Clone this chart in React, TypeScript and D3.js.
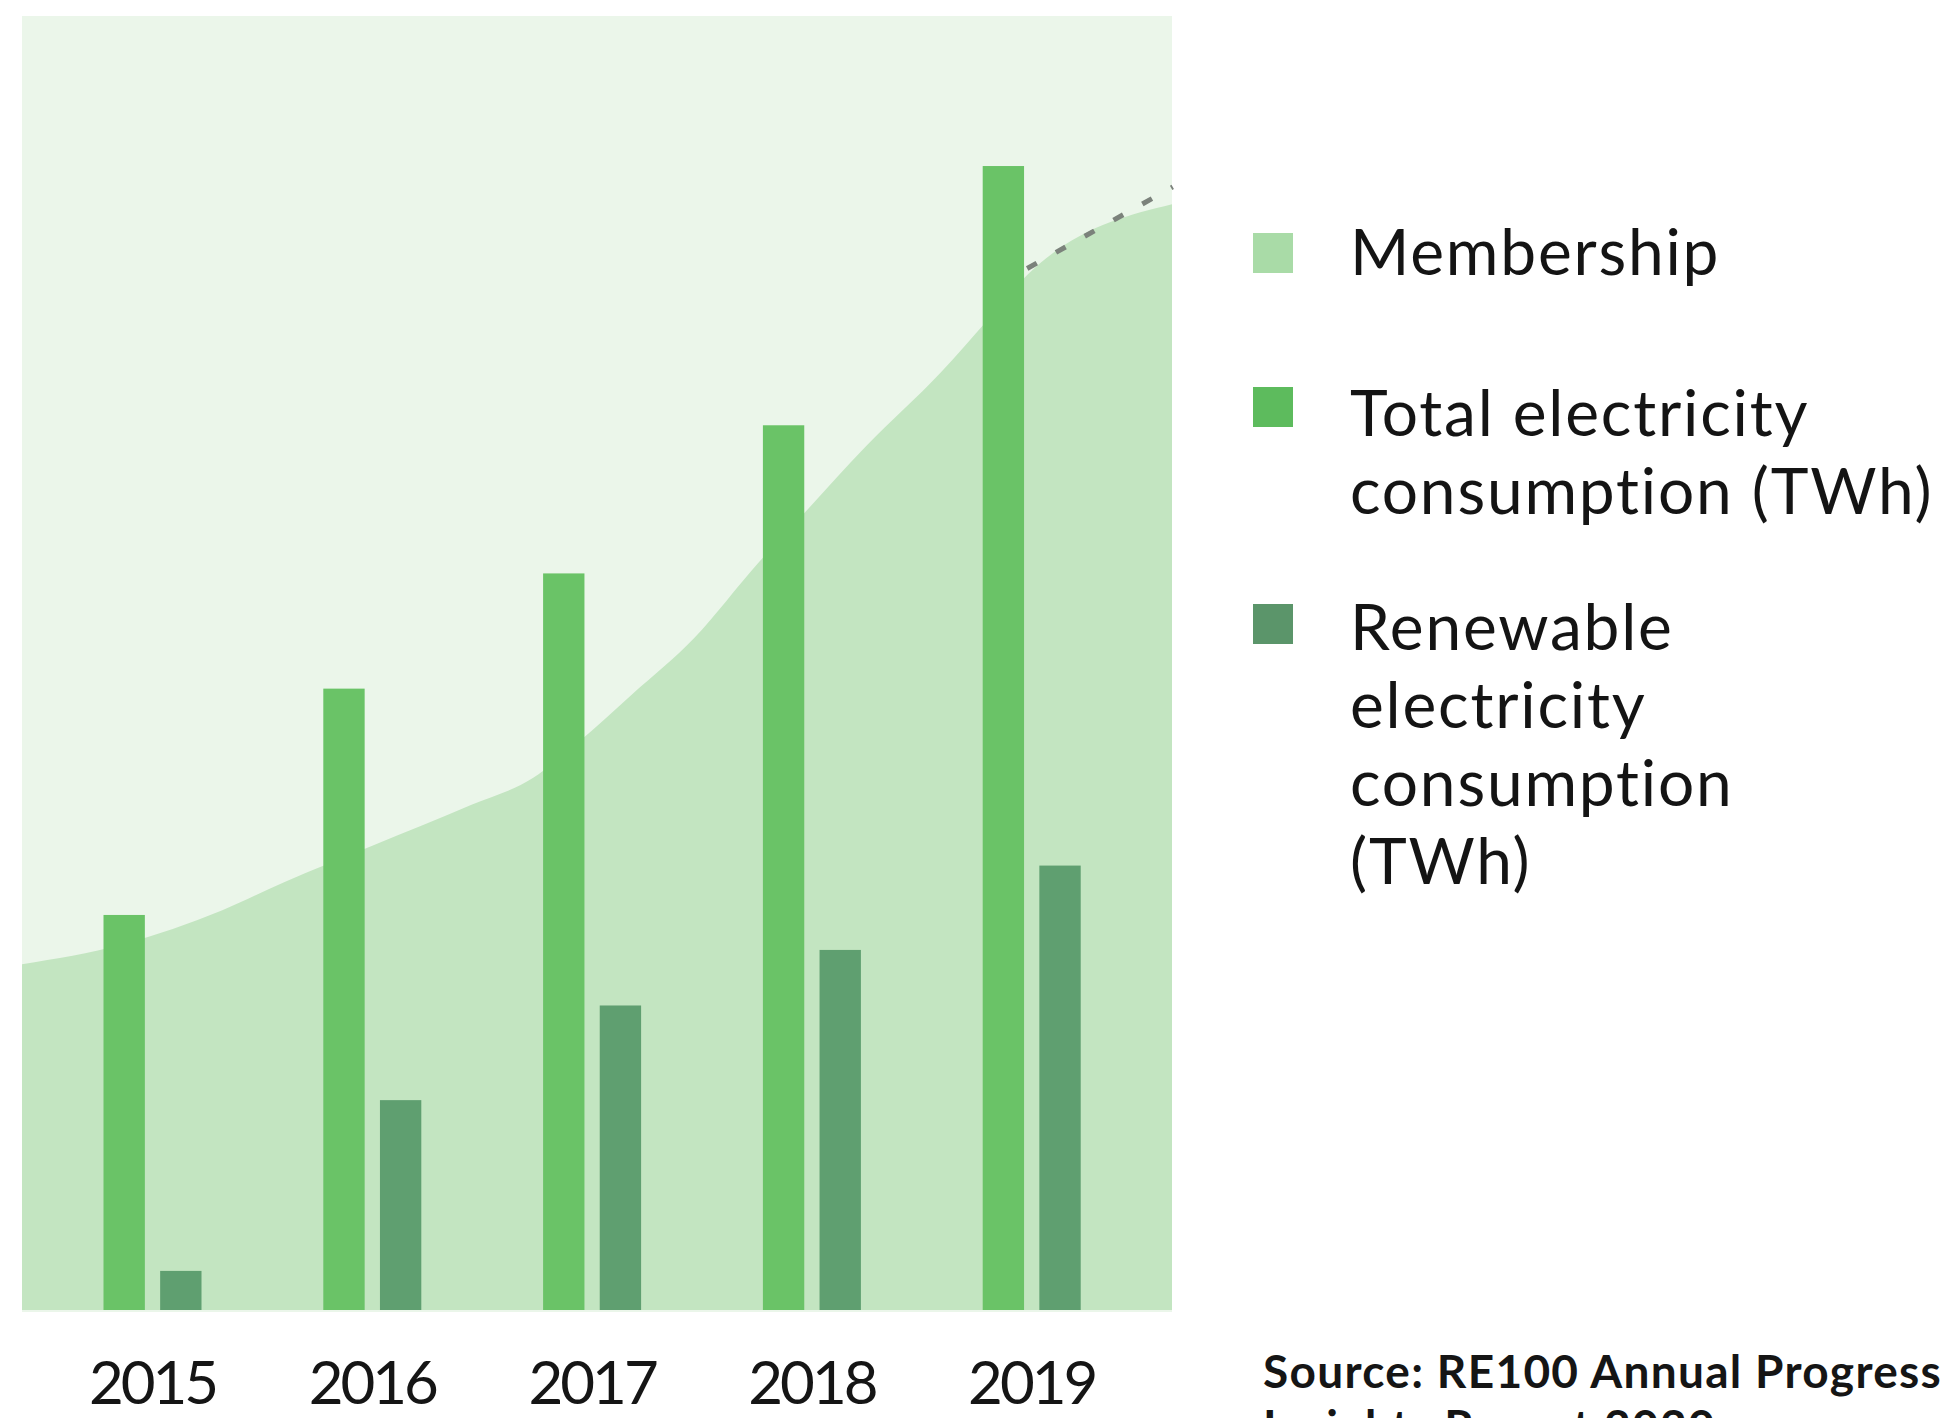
import React from "react";
import * as d3 from "d3";

const years = ["2015", "2016", "2017", "2018", "2019"];
const totalTWh = [96, 151, 179, 215, 278];
const renewableTWh = [9.5, 51, 74, 87.5, 108];

const membershipYears = [2014.4, 2014.86, 2015.31, 2015.59, 2015.99, 2016.44, 2016.72, 2016.92, 2017.17, 2017.45, 2017.74, 2017.92, 2018.23, 2018.57, 2018.78, 2018.96, 2019.62];
const membershipValues = [74.2, 78.5, 85.8, 91.8, 99.6, 108.4, 114.2, 121.7, 132.2, 144.2, 160.3, 169.5, 185.4, 201.3, 212.4, 222.1, 237.3];
const projectionYears = [2018.96, 2019.62];
const projectionValues = [223.5, 241];

const seriesKeys = ["total", "renewable"];
const legendItems = [
  { key: "membership", lines: ["Membership"] },
  { key: "total", lines: ["Total electricity", "consumption (TWh)"] },
  { key: "renewable", lines: ["Renewable", "electricity", "consumption", "(TWh)"] },
];
const sourceLines = ["Source: RE100 Annual Progress", "Insights Report 2020"];

const colors: Record<string, string> = {
  membership: "#c3e5c1",
  membershipLegend: "#a9dba7",
  total: "#6ac367",
  totalLegend: "#5dbb5d",
  renewable: "#5f9f70",
  renewableLegend: "#5b956a",
  bg: "#ebf6ea",
};

const FONT = "Lato, 'Open Sans', sans-serif";

export default function App() {
  const W = 1942;
  const H = 1418;
  const plot = { left: 22, right: 1172, top: 16, bottom: 1312 };
  const baseline = 1310;

  const x0 = d3.scaleBand<string>().domain(years).range([42.6, 1141.6]).paddingInner(0);
  const groupW = 98;
  const x1 = d3
    .scaleBand<string>()
    .domain(seriesKeys)
    .range([x0.bandwidth() / 2 - groupW / 2, x0.bandwidth() / 2 + groupW / 2])
    .paddingInner(0.27);
  const y = d3.scaleLinear().domain([0, 300]).range([baseline, baseline - 300 * 4.115]);
  const yM = d3.scaleLinear().domain([0, 250]).range([baseline, baseline - 250 * 4.66]);
  const xM = d3.scaleLinear().domain([2015, 2019]).range([154, 1036]);

  const memPts = membershipYears.map((yr, i) => [yr, membershipValues[i]] as [number, number]);
  const area = d3
    .area<[number, number]>()
    .x((d) => xM(d[0]))
    .y0(baseline)
    .y1((d) => yM(d[1]))
    .curve(d3.curveMonotoneX);
  const projPts = projectionYears.map((yr, i) => [yr, projectionValues[i]] as [number, number]);
  const line = d3
    .line<[number, number]>()
    .x((d) => xM(d[0]))
    .y((d) => yM(d[1]));

  const values: Record<string, number[]> = { total: totalTWh, renewable: renewableTWh };

  const legendX = 1253;
  const textX = 1350;
  const legendSquareY = [233, 387, 604];
  const legendFirstBaseline = [275, 436, 650];
  const lineH = 78;
  const legendColor: Record<string, string> = {
    membership: colors.membershipLegend,
    total: colors.totalLegend,
    renewable: colors.renewableLegend,
  };

  return (
    <svg width={W} height={H} style={{ position: "absolute", left: 0, top: 0, background: "#fff" }}>
      <defs>
        <clipPath id="plotClip">
          <rect x={plot.left} y={plot.top} width={plot.right - plot.left} height={plot.bottom - plot.top} />
        </clipPath>
      </defs>
      <rect x={plot.left} y={plot.top} width={plot.right - plot.left} height={plot.bottom - plot.top} fill={colors.bg} />
      <g clipPath="url(#plotClip)">
        <path d={area(memPts) || ""} fill={colors.membership} />
      </g>
      <path d={line(projPts) || ""} fill="none" stroke="#7b827b" strokeWidth={5} strokeDasharray="11 22" />
      {years.map((yr) => (
        <g key={yr} transform={`translate(${x0(yr)},0)`}>
          {seriesKeys.map((k) => {
            const v = values[k][years.indexOf(yr)];
            return (
              <rect
                key={k}
                x={x1(k)}
                y={y(v)}
                width={x1.bandwidth()}
                height={baseline - y(v)}
                fill={colors[k]}
              />
            );
          })}
        </g>
      ))}
      {years.map((yr) => (
        <text
          key={yr}
          x={(x0(yr) as number) + x0.bandwidth() / 2}
          y={1404}
          textAnchor="middle"
          fontFamily={FONT}
          fontSize={60}
          letterSpacing={-3}
          fill="#151515"
        >
          {yr}
        </text>
      ))}
      {legendItems.map((item, i) => (
        <g key={item.key}>
          <rect x={legendX} y={legendSquareY[i]} width={40} height={40} fill={legendColor[item.key]} />
          {item.lines.map((ln, j) => (
            <text
              key={j}
              x={textX}
              y={legendFirstBaseline[i] + j * lineH}
              fontFamily={FONT}
              fontSize={64}
              letterSpacing={1.8}
              fill="#141414"
            >
              {ln}
            </text>
          ))}
        </g>
      ))}
      {sourceLines.map((ln, i) => (
        <text
          key={i}
          x={1263}
          y={1388 + i * 55}
          fontFamily={FONT}
          fontWeight={700}
          fontSize={46}
          letterSpacing={1.3}
          fill="#151515"
        >
          {ln}
        </text>
      ))}
    </svg>
  );
}
